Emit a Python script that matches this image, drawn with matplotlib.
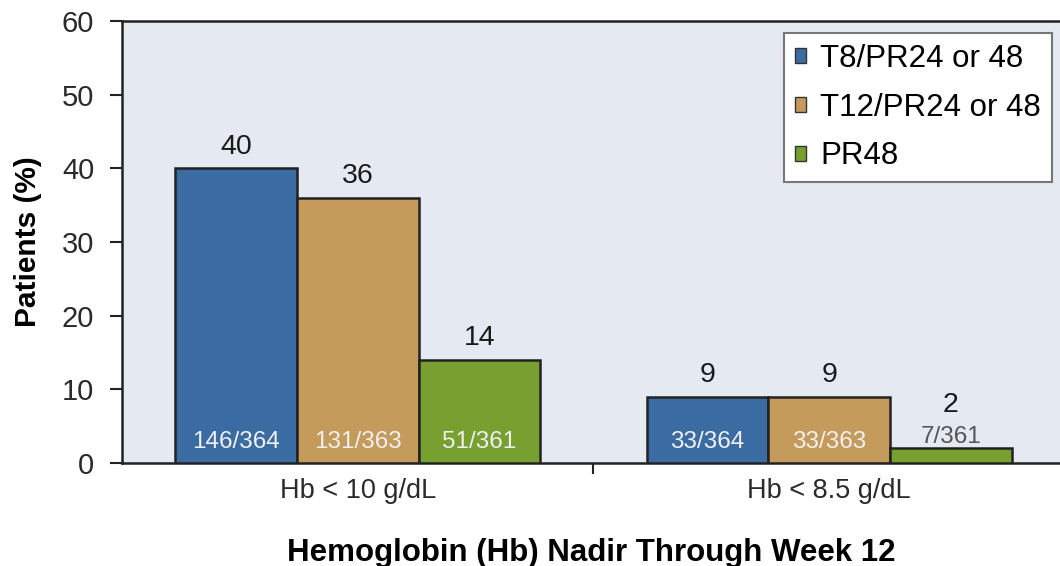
import matplotlib
matplotlib.use("Agg")
import matplotlib.pyplot as plt
import numpy as np
from matplotlib.patches import Patch

categories = ["Hb < 10 g/dL", "Hb < 8.5 g/dL"]
series_names = ["T8/PR24 or 48", "T12/PR24 or 48", "PR48"]
values = {
    "T8/PR24 or 48": [40, 9],
    "T12/PR24 or 48": [36, 9],
    "PR48": [14, 2],
}
counts = {
    "T8/PR24 or 48": ["146/364", "33/364"],
    "T12/PR24 or 48": ["131/363", "33/363"],
    "PR48": ["51/361", "7/361"],
}
colors = ["#3A6BA2", "#C49B5B", "#77A030"]
yticks = [0, 10, 20, 30, 40, 50, 60]

plt.rcParams['font.family'] = ['Liberation Sans', 'DejaVu Sans']

fig = plt.figure(figsize=(10.6, 5.66), dpi=100)
ax = fig.add_axes([0.1151, 0.182, 0.885, 0.781])
ax.set_facecolor("#E4E9F2")

x = np.arange(len(categories))
w = 0.258
offsets = [-w, 0, w]
for i, name in enumerate(series_names):
    vals = values[name]
    bars = ax.bar(x + offsets[i], vals, width=w, color=colors[i],
                  edgecolor="#222222", linewidth=1.8, zorder=3)
    for j, b in enumerate(bars):
        v = vals[j]
        cx = b.get_x() + b.get_width() / 2
        if v >= 5:
            ax.text(cx, v + 1.95, str(v), ha="center", va="baseline", fontsize=20.5, color="#1a1a1a")
            ax.text(cx, 2.0, counts[name][j], ha="center", va="baseline", fontsize=17.5,
                    color="#F0F0F0", zorder=4)
        else:
            ax.text(cx, v + 4.9, str(v), ha="center", va="baseline", fontsize=20.5, color="#1a1a1a")
            ax.text(cx, v + 0.7, counts[name][j], ha="center", va="baseline", fontsize=17.5,
                    color="#555555", zorder=4)

ax.set_xlim(-0.5, 1.49)
ax.set_ylim(0, 60)
ax.set_yticks(yticks)
ax.set_yticklabels([str(t) for t in yticks], fontsize=21, color="#2a2a2a")
ax.tick_params(axis="y", direction="out", length=9, width=1.5, pad=11, color="#222222")
ax.set_xticks(x)
ax.set_xticklabels(categories, fontsize=19.5, color="#2a2a2a")
ax.tick_params(axis="x", length=0, pad=11)
ax.set_xticks([0.5], minor=True)
ax.tick_params(axis="x", which="minor", direction="out", length=8, width=1.5, color="#222222")

for s in ["left", "bottom", "top"]:
    ax.spines[s].set_color("#222222")
    ax.spines[s].set_linewidth(1.8)
ax.spines["right"].set_visible(False)

ax.set_ylabel("Patients (%)", fontsize=21.5, fontweight="bold", labelpad=14)
ax.set_xlabel("Hemoglobin (Hb) Nadir Through Week 12", fontsize=22.5, fontweight="bold", labelpad=24)

handles = [Patch(facecolor=c, edgecolor="#333333", label=n) for c, n in zip(colors, series_names)]
leg = ax.legend(handles=handles, loc="upper right", bbox_to_anchor=(0.9915, 0.973), fontsize=22.5,
                frameon=True, fancybox=False, edgecolor="#777777", framealpha=1,
                handlelength=0.36, handleheight=0.36, handletextpad=0.45, labelspacing=0.6,
                borderpad=0.35, borderaxespad=0.0)
leg.get_frame().set_linewidth(1.5)

fig.savefig("out.png", dpi=100)
